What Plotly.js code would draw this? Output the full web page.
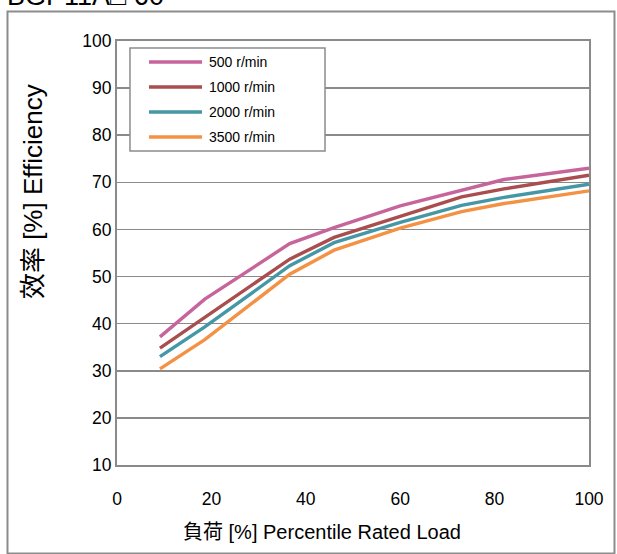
<!DOCTYPE html>
<html>
<head>
<meta charset="utf-8">
<script src="https://cdn.plot.ly/plotly-3.0.1.min.js"></script>
<style>
  html, body { margin: 0; padding: 0; background: #ffffff; }
  #chart { width: 617px; height: 554px; }
</style>
</head>
<body>
<div id="chart"></div>
<script>
// ---- data ----
const loadPct = [9.1, 18.6, 36.6, 46, 60, 73, 82, 100];
const seriesNames = ["500 r/min", "1000 r/min", "2000 r/min", "3500 r/min"];
const eff500  = [37.2, 45.2, 57.0, 60.4, 65.0, 68.3, 70.6, 73.0];
const eff1000 = [34.8, 41.3, 53.7, 58.3, 62.8, 66.9, 68.6, 71.5];
const eff2000 = [33.0, 39.3, 52.3, 57.2, 61.5, 65.1, 66.8, 69.6];
const eff3500 = [30.4, 36.6, 50.5, 55.6, 60.3, 63.8, 65.5, 68.2];
const xTicks = [0, 20, 40, 60, 80, 100];
const yTicks = [10, 20, 30, 40, 50, 60, 70, 80, 90, 100];
const topLabel = "BGP11A\u25A1 60";
const xTitle = "負荷 [%] Percentile Rated Load";
const yTitle = "效率 [%] Efficiency";

const colors = ["#C7649B", "#AA4D4F", "#4597A6", "#F39145"];
const seriesValues = [eff500, eff1000, eff2000, eff3500];
const FONT = "Liberation Sans, Arial, 'Noto Sans CJK JP', sans-serif";

const traces = seriesValues.map((vals, i) => ({
  type: "scatter",
  mode: "lines",
  x: loadPct,
  y: vals,
  name: seriesNames[i],
  line: { color: colors[i], width: 3.4 },
  showlegend: false,
  hoverinfo: "x+y+name"
}));

// manual legend (box + line samples + labels), in paper coordinates
const legX0 = 0.0275, legX1 = 0.4407, legY0 = 0.7406, legY1 = 0.9835;
const legRows = [0.9505, 0.8915, 0.8325, 0.7736];
const shapes = [
  // outer frame
  { type: "rect", xref: "paper", yref: "paper", x0: -0.232, x1: 1.054, y0: -0.2087, y1: 1.0696,
    line: { color: "#8c8c8c", width: 2 }, fillcolor: "rgba(0,0,0,0)", layer: "below" },
  // legend box
  { type: "rect", xref: "paper", yref: "paper", x0: legX0, x1: legX1, y0: legY0, y1: legY1,
    line: { color: "#8c8c8c", width: 1.5 }, fillcolor: "#ffffff", layer: "above" }
];
const annotations = [];
seriesNames.forEach((nm, i) => {
  shapes.push({ type: "line", xref: "paper", yref: "paper", x0: 0.0678, x1: 0.1801,
    y0: legRows[i], y1: legRows[i], line: { color: colors[i], width: 3.4 }, layer: "above" });
  annotations.push({ xref: "paper", yref: "paper", x: 0.1907, y: legRows[i], xanchor: "left", yanchor: "middle",
    text: nm, showarrow: false, font: { family: FONT, size: 14, color: "#000" } });
});
annotations.push({ xref: "paper", yref: "paper", x: -0.237, y: 1.107, xanchor: "left", yanchor: "middle",
  text: topLabel, showarrow: false, font: { family: FONT, size: 27, color: "#000" } });
annotations.push({ xref: "paper", yref: "paper", x: 0.435, y: -0.158, xanchor: "center", yanchor: "middle",
  text: xTitle, showarrow: false, font: { family: FONT, size: 20, color: "#000" } });
annotations.push({ xref: "paper", yref: "paper", x: -0.178, y: 0.646, xanchor: "center", yanchor: "middle",
  text: yTitle, textangle: -90, showarrow: false, font: { family: FONT, size: 26, color: "#000" } });

const layout = {
  width: 617, height: 554,
  margin: { l: 117, r: 28, t: 41, b: 89 },
  paper_bgcolor: "#ffffff", plot_bgcolor: "#ffffff",
  font: { family: FONT, size: 17, color: "#000" },
  showlegend: false,
  xaxis: {
    range: [0, 100], tickvals: xTicks, ticktext: xTicks.map(String),
    showgrid: false, zeroline: false, ticks: "",
    showline: true, linecolor: "#8a8a8a", linewidth: 2, mirror: true,
    tickfont: { family: FONT, size: 17.5, color: "#000" }, ticklabelstandoff: 17,
    fixedrange: true
  },
  yaxis: {
    range: [10, 100], tickvals: yTicks, ticktext: yTicks.map(String),
    showgrid: true, gridcolor: "#8a8a8a", gridwidth: 1.5, zeroline: false, ticks: "",
    showline: true, linecolor: "#8a8a8a", linewidth: 2, mirror: true,
    tickfont: { family: FONT, size: 17.5, color: "#000" }, ticklabelstandoff: 0,
    fixedrange: true
  },
  shapes: shapes,
  annotations: annotations
};

Plotly.newPlot("chart", traces, layout, { displayModeBar: false, staticPlot: true });
</script>
</body>
</html>
